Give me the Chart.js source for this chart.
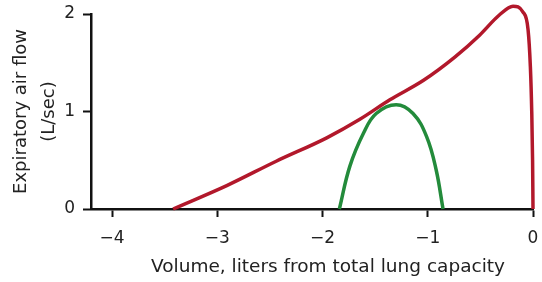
<!DOCTYPE html>
<html>
<head>
<meta charset="utf-8">
<script src="https://cdn.jsdelivr.net/npm/chart.js@4"></script>
<style>
  html, body { margin: 0; padding: 0; background: #fff; }
  #wrap { width: 542px; height: 282px; }
</style>
</head>
<body>
<div id="wrap"><canvas id="flowChart" width="542" height="282"></canvas></div>
<script>
// Flow-volume curves
const redX = [-3.42, -2.91, -2.44, -1.96, -1.645, -1.36, -1.04, -0.74, -0.51, -0.32, -0.19, -0.095, -0.047, -0.025, -0.012, -0.004, 0];
const redY = [0, 0.24, 0.49, 0.73, 0.92, 1.12, 1.32, 1.56, 1.78, 1.99, 2.08, 2.02, 1.84, 1.46, 1.0, 0.5, 0];
const greenX = [-1.84, -1.74, -1.61, -1.49, -1.30, -1.14, -1.01, -0.92, -0.855];
const greenY = [0, 0.44, 0.78, 0.98, 1.07, 0.98, 0.74, 0.40, 0];
const xTicks = [-4, -3, -2, -1, 0];
const yTicks = [0, 1, 2];
const xTitle = 'Volume, liters from total lung capacity';

const toPoints = (xs, ys) => xs.map((x, i) => ({ x: x, y: ys[i] }));
const minus = v => (v < 0 ? '\u2212' + Math.abs(v) : String(v));
const tickFont = { family: "'DejaVu Sans', sans-serif", size: 17 };

// x title sits a little right of the plot centre in the original
const xTitlePlugin = {
  id: 'xTitle',
  afterDraw(chart) {
    const c = chart.ctx;
    const area = chart.chartArea;
    c.save();
    c.font = "18.5px 'DejaVu Sans', sans-serif";
    c.fillStyle = '#222';
    c.textAlign = 'center';
    c.textBaseline = 'alphabetic';
    c.fillText(xTitle, (area.left + area.right) / 2 + 16, 272);
    c.restore();
  }
};

const ctx = document.getElementById('flowChart').getContext('2d');
new Chart(ctx, {
  type: 'scatter',
  data: {
    datasets: [
      {
        data: toPoints(redX, redY),
        showLine: true,
        borderColor: '#b2182b',
        borderWidth: 3.5,
        pointRadius: 0,
        cubicInterpolationMode: 'monotone',
        clip: false
      },
      {
        data: toPoints(greenX, greenY),
        showLine: true,
        borderColor: '#238b3b',
        borderWidth: 3.5,
        pointRadius: 0,
        tension: 0.4,
        clip: false
      }
    ]
  },
  plugins: [xTitlePlugin],
  options: {
    responsive: false,
    animation: false,
    layout: { padding: { top: 14, right: 9, left: 7, bottom: 0 } },
    plugins: { legend: { display: false }, tooltip: { enabled: false } },
    scales: {
      x: {
        type: 'linear',
        min: -4.2,
        max: 0,
        afterBuildTicks: s => { s.ticks = xTicks.map(v => ({ value: v })); },
        afterFit: s => { s.height = 73; s.paddingRight = 0; s.paddingLeft = 0; },
        ticks: { callback: minus, color: '#222', font: tickFont, padding: 11, maxRotation: 0 },
        grid: { drawOnChartArea: false, tickLength: 8, tickWidth: 2, color: '#111' },
        border: { color: '#111', width: 2.5 }
      },
      y: {
        min: 0,
        max: 2,
        afterBuildTicks: s => { s.ticks = yTicks.map(v => ({ value: v })); },
        afterFit: s => { s.width = 84; s.paddingTop = 0; s.paddingBottom = 0; },
        ticks: { color: '#222', font: tickFont, padding: 8 },
        grid: { drawOnChartArea: false, tickLength: 8, tickWidth: 2, color: '#111' },
        border: { color: '#111', width: 2.5 },
        title: { display: true, text: ['Expiratory air flow', '(L/sec)'], color: '#222', font: { family: "'DejaVu Sans', sans-serif", size: 18, lineHeight: 1.55 }, padding: 0 }
      }
    }
  }
});
</script>
</body>
</html>
